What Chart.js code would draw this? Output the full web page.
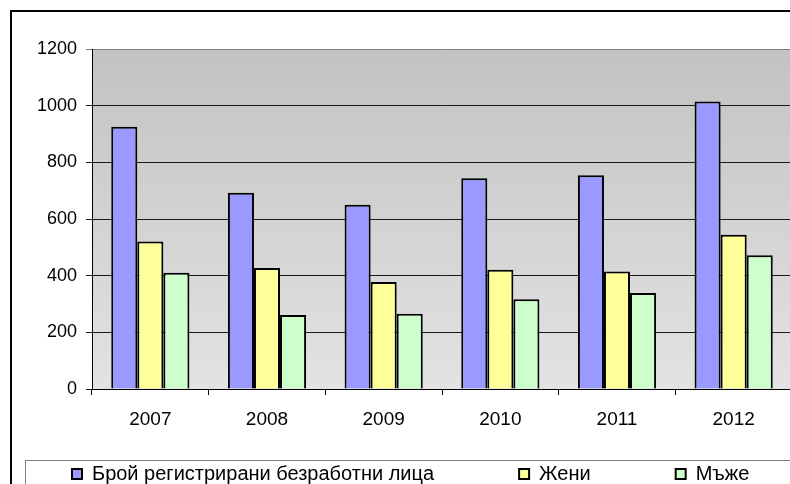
<!DOCTYPE html>
<html>
<head>
<meta charset="utf-8">
<script src="https://cdn.jsdelivr.net/npm/chart.js@4.4.0/dist/chart.umd.min.js"></script>
<style>
  html, body { margin: 0; padding: 0; background: #fff; overflow: hidden; width: 790px; height: 484px; }
  #wrap { position: absolute; left: 0; top: 0; width: 824px; height: 484px; }
</style>
</head>
<body>
<div id="wrap"><canvas id="chart" width="824" height="484"></canvas></div>
<script>
const years = ['2007', '2008', '2009', '2010', '2011', '2012'];
const total = [926, 693, 650, 744, 754, 1015];
const women = [521, 427, 378, 421, 415, 544];
const men = [410, 261, 266, 317, 339, 472];
const seriesNames = ['Брой регистрирани безработни лица', 'Жени', 'Мъже'];

// gray gradient behind the bars, outer frame, legend frame, legend placement
const decor = {
    id: 'decor',
    afterLayout(chart) {
        const lg = chart.legend;
        const pad = lg.options.labels.padding;
        const fs = lg.options.labels.font.size;
        // keep all three entries on one row
        lg.maxWidth = 2000;
        lg.fit();
        lg.top = 474 - pad - fs / 2;
        lg.bottom = 520;
        // centred so the first legend box lands at x=72
        lg.right = lg.lineWidths[0] + 200;
        lg.left = 144 - pad + lg.lineWidths[0] - lg.right;
    },
    beforeDraw(chart) {
        const ctx = chart.ctx;
        const a = chart.chartArea;
        const g = ctx.createLinearGradient(0, a.top, 0, a.bottom);
        g.addColorStop(0, '#c2c2c2');
        g.addColorStop(1, '#e3e3e3');
        ctx.save();
        ctx.fillStyle = g;
        ctx.fillRect(a.left, a.top, a.right - a.left, a.bottom - a.top);
        ctx.restore();
    },
    afterDraw(chart) {
        const ctx = chart.ctx;
        ctx.save();
        ctx.strokeStyle = '#000';
        ctx.lineWidth = 2;
        ctx.strokeRect(11, 11, 900, 900);
        ctx.strokeStyle = '#808080';
        ctx.lineWidth = 1;
        ctx.strokeRect(25.5, 460.5, 900, 100);
        ctx.restore();
    }
};

new Chart(document.getElementById('chart'), {
    type: 'bar',
    data: {
        labels: years,
        datasets: [
            { label: seriesNames[0], data: total, backgroundColor: '#9999ff', borderColor: '#000', borderWidth: 2 },
            { label: seriesNames[1], data: women, backgroundColor: '#ffff99', borderColor: '#000', borderWidth: 2 },
            { label: seriesNames[2], data: men, backgroundColor: '#ccffcc', borderColor: '#000', borderWidth: 2 }
        ]
    },
    options: {
        responsive: false,
        animation: false,
        layout: { padding: { left: 32, right: 32, top: 49, bottom: 25 } },
        datasets: { bar: { barPercentage: 1, categoryPercentage: 0.67 } },
        plugins: {
            tooltip: { enabled: false },
            legend: {
                position: 'bottom',
                maxHeight: 30,
                labels: {
                    boxWidth: 10,
                    boxHeight: 10,
                    padding: 85,
                    color: '#000',
                    font: { family: "'Liberation Sans', Arial", size: 20 }
                }
            }
        },
        scales: {
            x: {
                afterFit(s) { s.height = 40; },
                grid: { drawOnChartArea: false, tickLength: 6, color: '#000', offset: true },
                border: { color: '#000', width: 1 },
                ticks: { color: '#000', padding: 13, font: { family: "'Liberation Sans', Arial", size: 19 } }
            },
            y: {
                min: 0,
                max: 1200,
                afterFit(s) { s.width = 60; },
                grid: {
                    color: ctx => ctx.tick && ctx.tick.value === 1200 ? '#808080' : '#1a1a1a',
                    tickLength: 6,
                    lineWidth: 1
                },
                border: { color: '#000', width: 1 },
                ticks: {
                    stepSize: 200,
                    color: '#000',
                    padding: 9,
                    font: { family: "'Liberation Sans', Arial", size: 18 },
                    callback: v => String(v)
                }
            }
        }
    },
    plugins: [decor]
});
</script>
</body>
</html>
